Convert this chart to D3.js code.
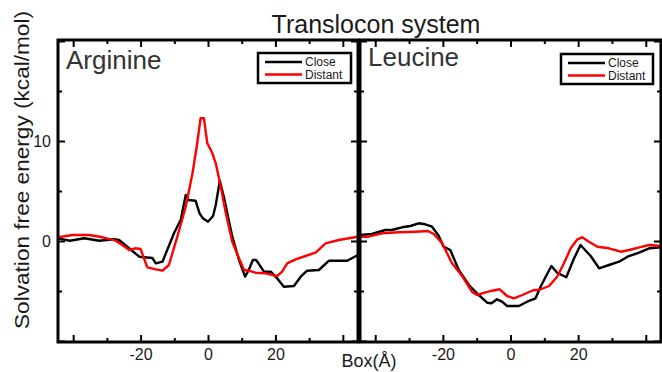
<!DOCTYPE html>
<html><head><meta charset="utf-8">
<script src="https://cdn.jsdelivr.net/npm/d3@7"></script>
<style>
html,body{margin:0;padding:0;background:#fff;}
text{font-family:"Liberation Sans",Arial,sans-serif;fill:#1a1a1a;}
</style></head>
<body>
<svg id="chart" width="662" height="372"></svg>
<script>
// ---- data ----
const title = "Translocon system";
const panelNames = ["Arginine", "Leucine"];
const seriesNames = ["Close", "Distant"];
const seriesColors = ["#000000", "#ff0000"];
const xLabel = "Box(\u00C5)";
const yLabel = "Solvation free energy (kcal/mol)";
const xMajorTicks = [-40, -20, 0, 20, 40];
const xMinorTicks = [-30, -10, 10, 30];
const xTickLabels = [-20, 0, 20];
const yMajorTicks = [-10, 0, 10, 20];
const yMinorTicks = [-5, 5, 15];
const yTickLabels = [0, 10];

const argCloseX = [-44.6,-41,-36.7,-32.3,-27.9,-26.4,-23.4,-20.4,-16.5,-15.5,-13.5,-10.1,-8.1,-6.6,-5.8,-3.7,-2.5,-1.5,0,1.5,2.3,3.5,4.7,7.2,9.2,11.0,12.1,13.3,14.3,16.6,18.6,20.5,22.5,25.5,27.5,29.4,32.9,35.9,38.8,41.3,44.5];
const argCloseY = [0.27,0.03,0.27,0.03,0.17,0.1,-0.73,-1.57,-1.7,-2.23,-2.07,0.77,2.1,4.6,4.1,4.03,2.77,2.27,1.93,2.5,3.6,6.03,4.43,0.43,-1.9,-3.57,-2.9,-1.9,-1.9,-3.07,-3.07,-3.73,-4.57,-4.5,-3.57,-2.97,-2.9,-1.97,-1.97,-1.97,-1.4];
const argDistX = [-44.6,-40.2,-35.3,-31.3,-27.4,-25.4,-23.4,-21.6,-20.0,-18.0,-15.5,-13.5,-11.6,-9.1,-6.6,-4.6,-3.2,-2.2,-1.2,-0.2,1.3,2.3,3.8,5.2,7.2,9.2,10.7,12.1,14.1,17.1,20.5,22.0,23.5,26.0,28.9,31.9,34.9,38.8,44.5];
const argDistY = [0.37,0.6,0.6,0.37,0.03,-0.4,-0.9,-0.73,-0.8,-2.63,-2.83,-2.97,-2.4,0.43,3.43,6.77,9.77,12.27,12.27,9.77,8.77,7.77,5.43,2.93,-0.07,-1.73,-2.9,-2.97,-3.17,-3.23,-3.5,-3.07,-2.23,-1.83,-1.5,-1.17,-0.23,0.1,0.43];
const leuCloseX = [-44.5,-41.0,-37.0,-35.1,-32.1,-29.6,-27.2,-25.2,-23.2,-21.2,-19.8,-17.8,-15.3,-12.3,-9.4,-6.9,-5.6,-4.0,-2.5,-1.0,2.5,4.9,7.4,8.9,10.4,12.1,13.8,16.5,18.8,20.7,23.7,26.2,29.1,32.1,34.6,38.0,41.0,44.5];
const leuCloseY = [0.6,0.7,1.1,1.1,1.37,1.5,1.77,1.67,1.43,0.5,-0.57,-0.9,-2.9,-4.4,-5.4,-6.17,-6.23,-5.83,-6.07,-6.5,-6.5,-6.07,-5.73,-4.57,-3.57,-2.5,-3.17,-3.63,-1.73,-0.4,-1.5,-2.73,-2.4,-2.07,-1.57,-1.17,-0.73,-0.63];
const leuDistX = [-44.5,-42.0,-38.0,-33.1,-28.1,-24.4,-22.7,-20.2,-17.3,-14.3,-11.4,-9.9,-7.4,-5.4,-3.2,-1.0,1.0,3.5,6.9,8.4,11.4,13.8,15.8,17.8,19.8,21.2,23.2,25.7,29.1,32.6,35.1,39.0,41.0,44.5];
const leuDistY = [0.43,0.43,0.77,0.87,0.93,1.0,0.7,-0.23,-2.23,-3.5,-5.07,-5.4,-5.13,-4.97,-4.83,-5.5,-5.73,-5.4,-4.9,-4.9,-4.5,-3.57,-2.23,-0.73,0.17,0.37,-0.07,-0.57,-0.73,-1.07,-0.9,-0.57,-0.4,-0.5];

const panelData = [
  [{x: argCloseX, y: argCloseY}, {x: argDistX, y: argDistY}],
  [{x: leuCloseX, y: leuCloseY}, {x: leuDistX, y: leuDistY}]
];

// ---- layout ----
const svg = d3.select("#chart");
const xDomain = [-44.5, 44.5];
const yDomain = [-10.1, 20.1];
const plotTop = 40, plotBottom = 342;
const panels = [
  {x0: 58, x1: 358, nameY: 69, legend: {x: 258, y: 53, w: 93, h: 30}},
  {x0: 360, x1: 661, nameY: 66, legend: {x: 561, y: 54, w: 92, h: 30}}
];
const yScale = d3.scaleLinear().domain(yDomain).range([plotBottom, plotTop]);

const defs = svg.append("defs");

panels.forEach((p, i) => {
  const x = d3.scaleLinear().domain(xDomain).range([p.x0, p.x1]);
  const g = svg.append("g");

  defs.append("clipPath").attr("id", "clip" + i)
    .append("rect").attr("x", p.x0).attr("y", plotTop).attr("width", p.x1 - p.x0).attr("height", plotBottom - plotTop);

  // lines
  const line = d3.line().x(d => x(d[0])).y(d => yScale(d[1]));
  panelData[i].forEach((s, k) => {
    const pts = s.x.map((v, j) => [v, s.y[j]]);
    g.append("path").datum(pts)
      .attr("clip-path", "url(#clip" + i + ")")
      .attr("fill", "none").attr("stroke", seriesColors[k])
      .attr("stroke-width", 2.4).attr("stroke-linejoin", "round")
      .attr("d", line);
  });

  // axes with inward ticks
  const fmtX = d => xTickLabels.includes(d) ? String(d) : "";
  const fmtY = d => (i === 0 && yTickLabels.includes(d)) ? String(d) : "";
  const mk = (axis, tr, vals, size, fmt) => {
    const a = g.append("g").attr("transform", tr)
      .call(axis.tickValues(vals).tickSize(-size).tickPadding(7).tickFormat(fmt));
    a.select(".domain").remove();
    a.selectAll("line").attr("stroke", "#000").attr("stroke-width", 2);
    a.selectAll("text").style("font-size", "16px").attr("fill", "#1a1a1a")
      .style("font-family", "'Liberation Sans', Arial, sans-serif");
    return a;
  };
  mk(d3.axisBottom(x), `translate(0,${plotBottom})`, xMajorTicks, 7, fmtX);
  mk(d3.axisBottom(x), `translate(0,${plotBottom})`, xMinorTicks, 4, () => "");
  mk(d3.axisTop(x), `translate(0,${plotTop})`, xMajorTicks, 7, () => "");
  mk(d3.axisTop(x), `translate(0,${plotTop})`, xMinorTicks, 4, () => "");
  mk(d3.axisLeft(yScale), `translate(${p.x0},0)`, yMajorTicks, 7, fmtY);
  mk(d3.axisLeft(yScale), `translate(${p.x0},0)`, yMinorTicks, 4, () => "");
  mk(d3.axisRight(yScale), `translate(${p.x1},0)`, yMajorTicks, 7, () => "");
  mk(d3.axisRight(yScale), `translate(${p.x1},0)`, yMinorTicks, 4, () => "");

  // frame
  g.append("rect").attr("x", p.x0).attr("y", plotTop)
    .attr("width", p.x1 - p.x0).attr("height", plotBottom - plotTop)
    .attr("fill", "none").attr("stroke", "#000").attr("stroke-width", 3);

  // panel name
  g.append("text").attr("x", p.x0 + 8).attr("y", p.nameY)
    .style("font-size", "26px").style("fill", "#333").text(panelNames[i]);

  // legend
  const L = p.legend;
  const lg = g.append("g");
  lg.append("rect").attr("x", L.x).attr("y", L.y).attr("width", L.w).attr("height", L.h)
    .attr("fill", "#fff").attr("stroke", "#000").attr("stroke-width", 2.5);
  seriesNames.forEach((nm, k) => {
    const yy = L.y + 9 + k * 12.5;
    lg.append("line").attr("x1", L.x + 7).attr("x2", L.x + 44)
      .attr("y1", yy).attr("y2", yy)
      .attr("stroke", seriesColors[k]).attr("stroke-width", 2.4);
    lg.append("text").attr("x", L.x + 47).attr("y", yy + 4.3)
      .style("font-size", "12px").text(nm);
  });
});

// title and axis titles
svg.append("text").attr("x", 376).attr("y", 33).attr("text-anchor", "middle")
  .style("font-size", "25px").text(title);
svg.append("text").attr("x", 369).attr("y", 367).attr("text-anchor", "middle")
  .style("font-size", "18px").text(xLabel);
svg.append("text").attr("transform", "translate(29,170) rotate(-90)")
  .attr("text-anchor", "middle").style("font-size", "20px")
  .attr("textLength", 318).attr("lengthAdjust", "spacingAndGlyphs")
  .text(yLabel);
</script>
</body></html>
